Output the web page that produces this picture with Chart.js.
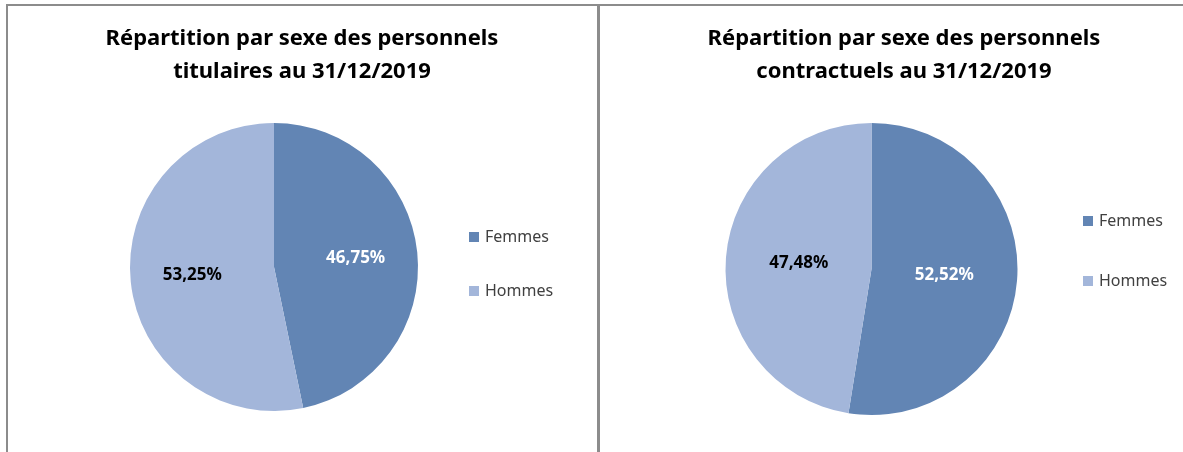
<!DOCTYPE html>
<html lang="fr">
<head>
<meta charset="utf-8">
<script src="https://cdn.jsdelivr.net/npm/chart.js@4/dist/chart.umd.min.js"></script>
<style>
  body { margin: 0; background: #fff; width: 1183px; height: 452px; overflow: hidden; position: relative; }
  .cadre { position: absolute; box-sizing: border-box; }
  #cadreG { left: 6px; top: 4px; width: 591px; height: 448px; border-left: 2px solid #8c8c8c; border-top: 2px solid #8c8c8c; }
  #sep { position: absolute; left: 597px; top: 4px; width: 3px; height: 448px; background: #8c8c8c; }
  #cadreD { left: 600px; top: 4px; width: 583px; height: 448px; border-top: 2px solid #8c8c8c; }
  canvas { position: absolute; left: 0; top: 0; }
</style>
</head>
<body>
<div id="cadreG" class="cadre"><canvas id="pieG" width="589" height="446"></canvas></div>
<div id="sep"></div>
<div id="cadreD" class="cadre"><canvas id="pieD" width="583" height="446"></canvas></div>
<script>
// Données
const categories = ["Femmes", "Hommes"];
const titulaires = [46.75, 53.25];
const contractuels = [52.52, 47.48];
const titreTitulaires = ["Répartition par sexe des personnels", "titulaires au 31/12/2019"];
const titreContractuels = ["Répartition par sexe des personnels", "contractuels au 31/12/2019"];

const couleurs = ["#6285b4", "#a3b6da"];
const couleursTexte = ["#ffffff", "#000000"];
const police = "'Noto Sans', 'Open Sans', sans-serif";

// dessine titre, étiquettes et légende
const habillage = {
  id: 'habillage',
  afterDraw(chart) {
    const o = chart.options.plugins.habillage;
    const ctx = chart.ctx;
    ctx.save();
    // titre
    ctx.fillStyle = "#000";
    ctx.font = "bold " + o.tailleTitre + "px " + police;
    ctx.textAlign = "center";
    ctx.textBaseline = "middle";
    o.titre.forEach((ligne, i) => ctx.fillText(ligne, o.titreX, o.titreY + i * 33));

    // étiquettes en %
    const arcs = chart.getDatasetMeta(0).data;
    const valeurs = chart.data.datasets[0].data;
    ctx.font = "bold 17px " + police;
    arcs.forEach((arc, i) => {
      const p = arc.getProps(['x', 'y', 'startAngle', 'endAngle', 'outerRadius'], true);
      const a = (p.startAngle + p.endAngle) / 2;
      const r = p.outerRadius * o.facteur;
      ctx.fillStyle = couleursTexte[i];
      ctx.fillText(valeurs[i].toFixed(2).replace(".", ",") + "%", p.x + Math.cos(a) * r, p.y + Math.sin(a) * r);
    });

    // légende
    ctx.font = "16px " + police;
    ctx.textAlign = "left";
    chart.data.labels.forEach((lab, i) => {
      const y = o.legendeY[i];
      ctx.fillStyle = couleurs[i];
      ctx.fillRect(o.legendeX, y - 5, 10, 10);
      ctx.fillStyle = "#404040";
      ctx.fillText(lab, o.legendeX + 16, y);
    });
    ctx.restore();
  }
};

function creerCamembert(canvasId, valeurs, titre, reglages) {
  const ctx = document.getElementById(canvasId).getContext('2d');
  new Chart(ctx, {
    type: 'pie',
    data: {
      labels: categories,
      datasets: [{ data: valeurs, backgroundColor: couleurs, borderWidth: 0 }]
    },
    options: {
      responsive: false,
      animation: false,
      layout: { padding: reglages.padding },
      plugins: {
        legend: { display: false },
        tooltip: { enabled: false },
        habillage: Object.assign({ titre: titre }, reglages)
      }
    },
    plugins: [habillage]
  });
}

creerCamembert('pieG', titulaires, titreTitulaires, {
  padding: { left: 122, right: 179, top: 117, bottom: 41 },
  titreX: 294, titreY: 33, tailleTitre: 22,
  facteur: 0.57,
  legendeX: 461, legendeY: [231, 285]
});

creerCamembert('pieD', contractuels, titreContractuels, {
  padding: { left: 125.5, right: 165.5, top: 117, bottom: 37 },
  titreX: 304, titreY: 33, tailleTitre: 22,
  facteur: 0.5,
  legendeX: 483, legendeY: [215, 275]
});
</script>
</body>
</html>
